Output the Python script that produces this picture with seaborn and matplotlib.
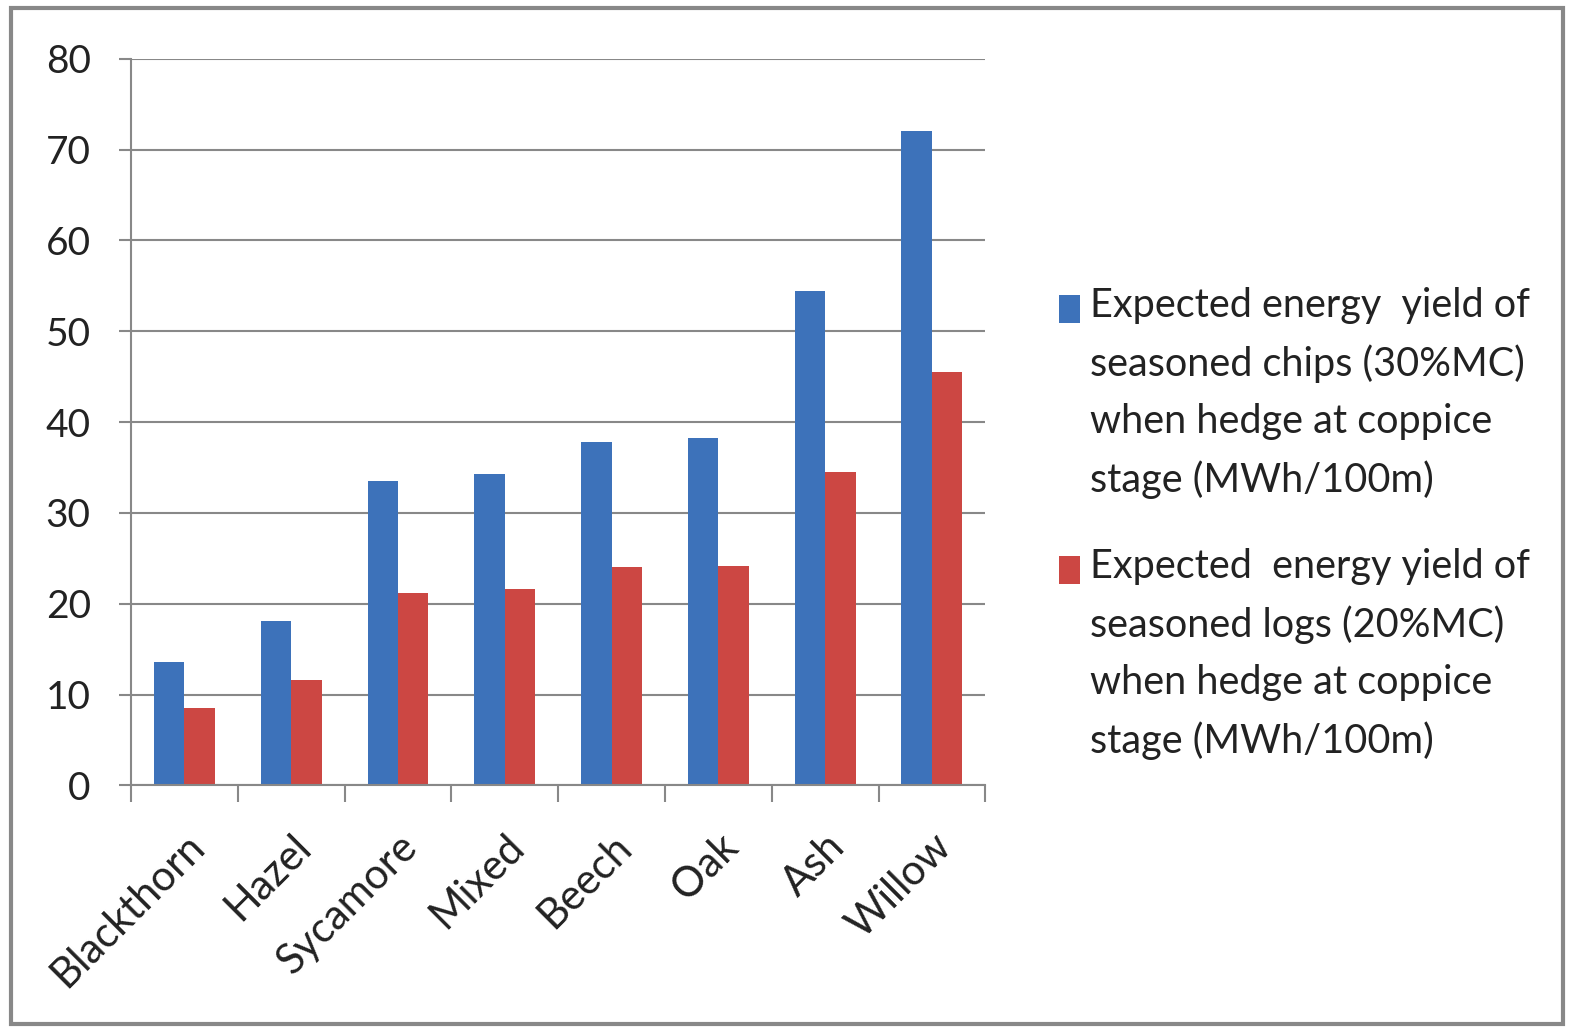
import matplotlib
matplotlib.use("Agg")
import matplotlib.pyplot as plt
import seaborn as sns
import pandas as pd
from matplotlib.patches import Rectangle

categories = ["Blackthorn", "Hazel", "Sycamore", "Mixed", "Beech", "Oak", "Ash", "Willow"]
chips_values = [13.6, 18.1, 33.5, 34.3, 37.8, 38.3, 54.4, 72.0]
logs_values = [8.5, 11.6, 21.2, 21.6, 24.0, 24.2, 34.5, 45.5]
series_labels = [
    "Expected energy  yield of\nseasoned chips (30%MC)\nwhen hedge at coppice\nstage (MWh/100m)",
    "Expected  energy yield of\nseasoned logs (20%MC)\nwhen hedge at coppice\nstage (MWh/100m)",
]
y_ticks = [0, 10, 20, 30, 40, 50, 60, 70, 80]
colors = ["#3d72ba", "#cc4743"]

df = pd.DataFrame({
    "Species": categories * 2,
    "Value": chips_values + logs_values,
    "Series": [series_labels[0]] * len(categories) + [series_labels[1]] * len(categories),
})

sns.set_style("white")
plt.rcParams["font.family"] = ["Lato", "DejaVu Sans"]

fig = plt.figure(figsize=(15.79, 10.32), dpi=100)
ax = fig.add_axes([0.083, 0.239, 0.541, 0.704])

sns.barplot(data=df, x="Species", y="Value", hue="Series", order=categories,
            hue_order=series_labels, palette=colors, width=0.57, saturation=1,
            ax=ax, legend=False, linewidth=0)

ax.set_xlim(-0.5, len(categories) - 0.5)
ax.set_ylim(0, 80)
ax.set_yticks(y_ticks)
ax.set_yticklabels([str(v) for v in y_ticks], fontsize=28, color="#222222")
ax.yaxis.grid(True, color="#888888", linewidth=1.5)
ax.set_axisbelow(True)
ax.set_xlabel("")
ax.set_ylabel("")

for s in ["top", "right"]:
    ax.spines[s].set_visible(False)
for s in ["left", "bottom"]:
    ax.spines[s].set_color("#888888")
    ax.spines[s].set_linewidth(1.5)

ax.tick_params(axis="y", which="major", left=True, length=9, width=1.5, color="#888888", pad=20)
ax.set_xticks(range(len(categories)))
ax.set_xticklabels(categories, rotation=45, ha="right", va="top", rotation_mode="anchor",
                   fontsize=30, color="#222222")
ax.tick_params(axis="x", which="major", length=0, pad=30)
ax.set_xticks([i - 0.5 for i in range(len(categories) + 1)], minor=True)
ax.tick_params(axis="x", which="minor", bottom=True, length=12, width=1.5, color="#888888")

# legend drawn manually (Excel style: swatch aligned to first line)
leg_text_x = 0.690
leg_tops = [0.722, 0.469]
for top, lab, col in zip(leg_tops, series_labels, colors):
    fig.text(leg_text_x, top, lab, ha="left", va="top", fontsize=28.5,
             color="#222222", linespacing=1.65)
    fig.patches.append(Rectangle((0.6705, top - 0.035), 0.0135, 0.027,
                                 transform=fig.transFigure, facecolor=col,
                                 edgecolor="none"))

# outer frame
fig.patches.append(Rectangle((0.007, 0.008), 0.983, 0.984, transform=fig.transFigure,
                             facecolor="none", edgecolor="#888888", linewidth=3))

fig.savefig("out.png", dpi=100)
